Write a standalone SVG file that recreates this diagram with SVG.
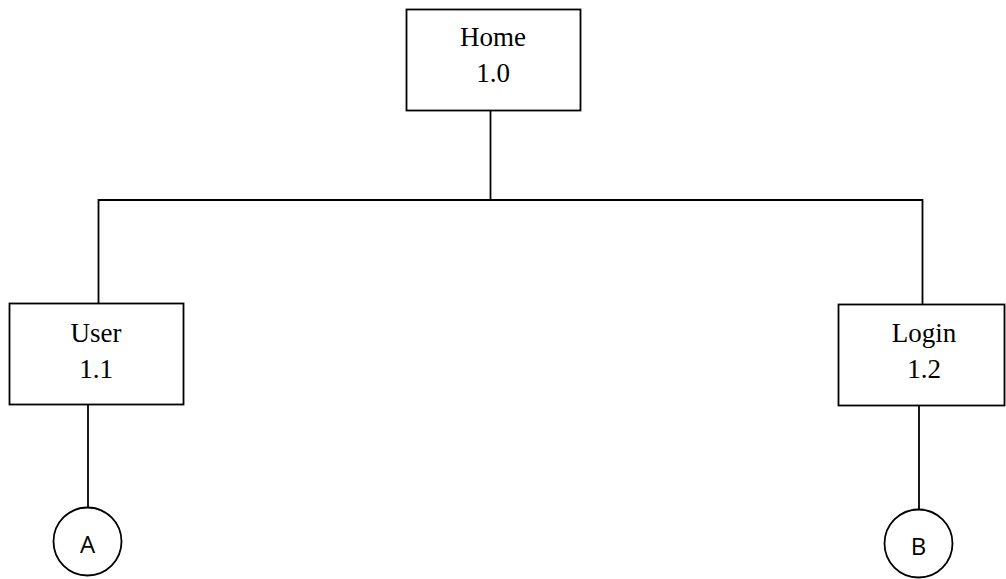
<svg xmlns="http://www.w3.org/2000/svg" width="1006" height="579" viewBox="0 0 1006 579">
<style>
.box{fill:#fff;stroke:#000;stroke-width:1.8}
.ln{fill:none;stroke:#000;stroke-width:1.8}
.t{font-family:"Liberation Serif","Times New Roman",serif;font-size:27px;fill:#000;text-anchor:middle}
.c{font-family:"Open Sans","Liberation Sans",Arial,sans-serif;font-size:24px;fill:#000;text-anchor:middle}
</style>
<rect width="1006" height="579" fill="#fff"/>
<g id="connectors">
<line class="ln" x1="490.5" y1="105" x2="490.5" y2="200"/>
<polyline class="ln" points="98.5,303 98.5,200 922.5,200 922.5,304"/>
<line class="ln" x1="88" y1="404" x2="88" y2="507"/>
<line class="ln" x1="919" y1="403" x2="919" y2="509"/>
</g>
<g id="home">
<rect class="box" x="406.5" y="9.5" width="174" height="101"/>
<text class="t" x="493" y="46">Home</text>
<text class="t" x="493" y="82">1.0</text>
</g>
<g id="user">
<rect class="box" x="9.5" y="303.5" width="174" height="101"/>
<text class="t" x="96" y="342">User</text>
<text class="t" x="96" y="378">1.1</text>
</g>
<g id="login">
<rect class="box" x="838.5" y="304.5" width="166" height="101"/>
<text class="t" x="924" y="342">Login</text>
<text class="t" x="924" y="378">1.2</text>
</g>
<g id="A">
<circle class="ln" cx="87.5" cy="541.5" r="34"/>
<text class="c" x="87.5" y="553">A</text>
</g>
<g id="B">
<circle class="ln" cx="918.5" cy="543.5" r="34"/>
<text class="c" x="918.5" y="555">B</text>
</g>
</svg>
